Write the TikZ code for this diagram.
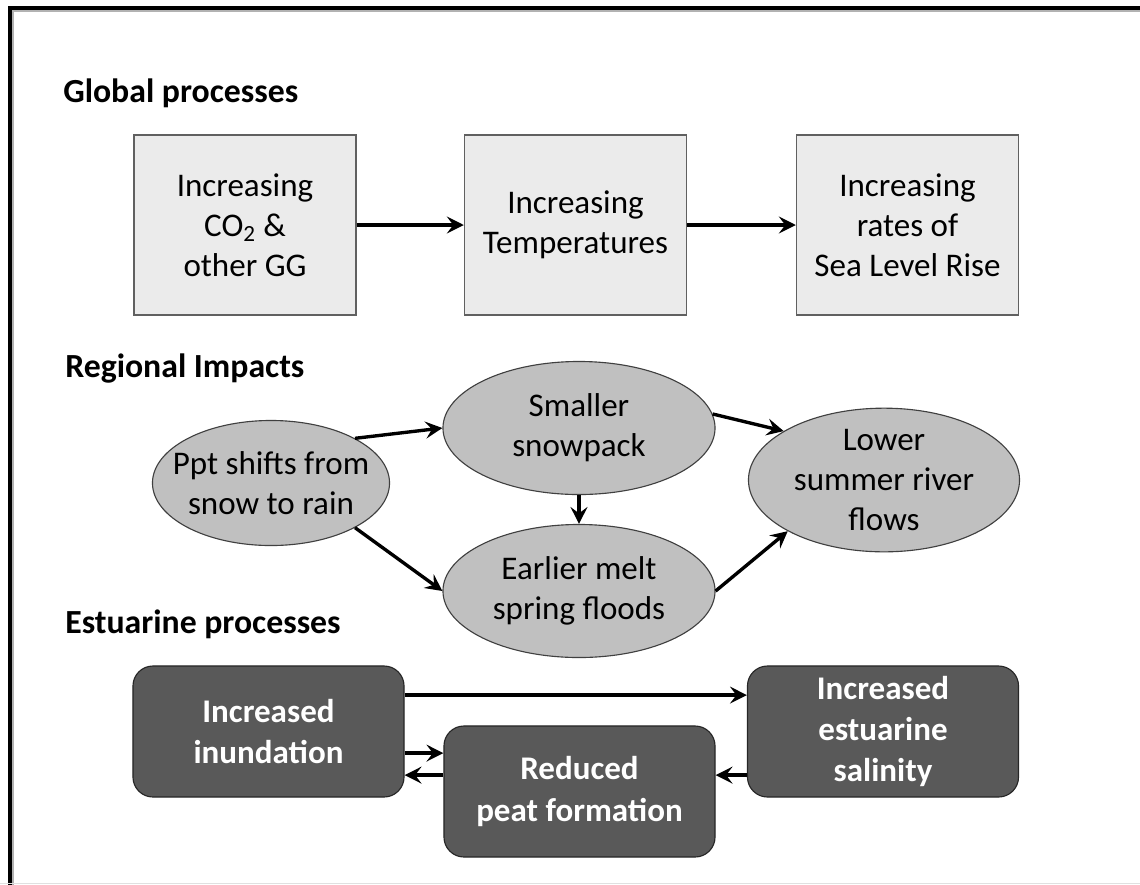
\documentclass[tikz,border=0pt]{standalone}
\usepackage{fontspec}
\setmainfont{Carlito}
\usetikzlibrary{shapes.geometric,arrows.meta}
\definecolor{globfill}{HTML}{EBEBEB}
\definecolor{globline}{HTML}{606060}
\definecolor{impfill}{HTML}{C0C0C0}
\definecolor{impline}{HTML}{404040}
\definecolor{estfill}{HTML}{595959}
\definecolor{estline}{HTML}{262626}
\newcommand{\zw}[1]{\makebox[0pt]{#1}}

\begin{document}
\begin{tikzpicture}[%
      x=0.025cm, y=-0.025cm,
      every node/.style={font=\fontsize{23.5}{28.5}\selectfont, align=center, inner sep=0pt},
      sectitle/.style={font=\fontsize{24}{28.5}\selectfont\bfseries, anchor=base west},
      globalbox/.style={draw=globline, line width=1pt, fill=globfill,
        minimum width=5.55cm, minimum height=4.5cm},
      impact/.style={ellipse, draw=impline, line width=0.8pt, fill=impfill,
        minimum width=6.8cm, minimum height=3.325cm},
      estbox/.style={draw=estline, line width=0.8pt, fill=estfill, rounded corners=0.5cm,
        minimum width=6.775cm, minimum height=3.275cm,
        text=white, font=\fontsize{23.5}{29.5}\selectfont\bfseries},
      arr/.style={line width=2.4pt, -{Stealth[length=12pt, width=12pt, inset=4.5pt]}}]
      \useasboundingbox (0,0) rectangle (1140,884);
      \clip (0,0) rectangle (1140,884);
      \draw[black!30, line width=1.5pt] (13,1000) -- (13,11) -- (1200,11);
      \draw[line width=2.8pt] (10,1000) -- (10,8) -- (1200,8);
      \draw[black!12, line width=1pt] (0,883.5) -- (1140,883.5);

      \node[sectitle] (globtitle) at (63,102) {Global processes};
      \node[sectitle] (regtitle) at (65,377) {Regional Impacts};
      \node[sectitle] (esttitle) at (65,633) {Estuarine processes};

      \node[globalbox] (co2) at (245,225) {Increasing\\CO\textsubscript{2} \&\\other GG};
      \node[globalbox] (temp) at (575.5,225) {Increasing\\Temperatures};
      \node[globalbox] (slr) at (907.5,225) {Increasing\\rates of\\Sea Level Rise};
      \draw[arr] (co2) -- (temp);
      \draw[arr] (temp) -- (slr);

      \node[impact, minimum width=5.925cm, minimum height=3.125cm] (ppt) at (271,483)
        {\zw{Ppt shifts from}\\\zw{snow to rain}};
      \node[impact] (snow) at (579,428) {\zw{Smaller}\\\zw{snowpack}};
      \node[impact] (melt) at (579,591) {\zw{Earlier melt}\\\zw{spring floods}};
      \node[impact, minimum width=6.775cm] (flows) at (884,480)
        {\zw{Lower}\\\zw{summer river}\\\zw{flows}};
      \draw[arr] (ppt.28) -- (snow.west);
      \draw[arr] (ppt.-28) -- (melt.west);
      \draw[arr] (snow.south) -- (melt.north);
      \draw[arr] (snow.6) -- (flows.154);
      \draw[arr] (melt.east) -- (flows.-152);

      \node[estbox] (inund) at (268.5,731.5) {Increased\\inundation};
      \node[estbox] (salin) at (883,731.5) {Increased\\estuarine\\salinity};
      \node[estbox] (peat) at (579.5,791.5) {Reduced\\peat formation};
      \draw[arr] ([yshift=0.91cm]inund.east) -- ([yshift=0.91cm]salin.west);
      \draw[arr] ([yshift=-0.54cm]inund.east) -- ([yshift=-0.54cm]inund.east -| peat.west);
      \draw[arr] ([yshift=-1.09cm]inund.east -| peat.west) -- ([yshift=-1.09cm]inund.east);
      \draw[arr] ([yshift=-1.09cm]salin.west) -- ([yshift=-1.09cm]salin.west -| peat.east);
    \end{tikzpicture}
\end{document}
